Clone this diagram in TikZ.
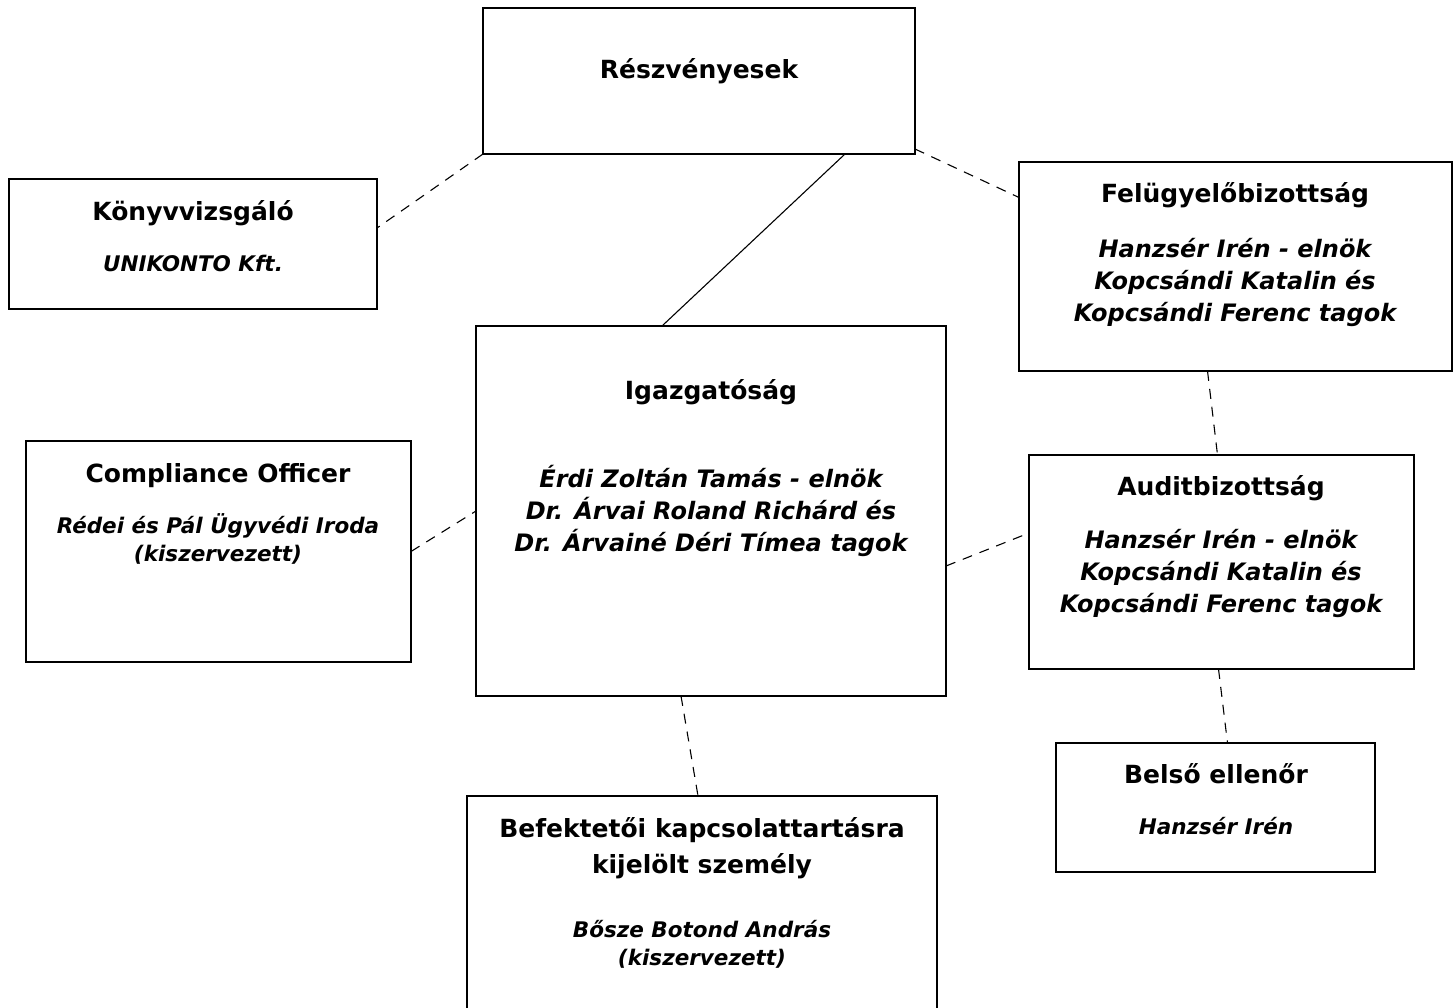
\documentclass[tikz,border=0pt]{standalone}
\usepackage{fontspec}
\setmainfont{DejaVu Sans}
\usetikzlibrary{calc}
\begin{document}
\begin{tikzpicture}[x=1pt,y=-1pt,
        box/.style={draw, line width=2.2pt, inner sep=0pt, outer sep=0pt},
        title/.style={anchor=base, align=center, inner sep=0pt, font=\bfseries\fontsize{25}{36}\selectfont},
        names/.style={anchor=base, align=center, inner sep=0pt, font=\bfseries\itshape\fontsize{24}{32}\selectfont},
        smallnames/.style={anchor=base, align=center, inner sep=0pt, font=\bfseries\itshape\fontsize{21.5}{28}\selectfont},
        link/.style={line width=1.1pt, dash pattern=on 10pt off 8pt},
        solidlink/.style={line width=1.1pt}]
        \useasboundingbox (0,0) rectangle (1455,1008);
        \clip (0,0) rectangle (1455,1008);
        \begin{scope}
            \node[box, minimum width=432pt, minimum height=146pt] (resz) at (699,81) {};
            \node[box, minimum width=368pt, minimum height=130pt] (konyv) at (193,244) {};
            \node[box, minimum width=433pt, minimum height=209pt] (felug) at (1235.5,266.5) {};
            \node[box, minimum width=470pt, minimum height=370pt] (igaz) at (711,511) {};
            \node[box, minimum width=385pt, minimum height=221pt] (comp) at (218.5,551.5) {};
            \node[box, minimum width=385pt, minimum height=214pt] (audit) at (1221.5,562) {};
            \node[box, minimum width=319pt, minimum height=129pt] (belso) at (1215.5,807.5) {};
            \node[box, minimum width=470pt, minimum height=224pt] (befekt) at (702,908) {};
            \node[title] (resz-t) at (699,79) {Részvényesek};
            \node[title] (konyv-t) at (193,221) {Könyvvizsgáló};
            \node[smallnames] (konyv-n) at (193,271) {UNIKONTO Kft.};
            \node[title] (felug-t) at (1235,203) {Felügyelőbizottság};
            \node[names] (felug-n) at (1235,321) {Hanzsér Irén - elnök\\Kopcsándi Katalin és\\Kopcsándi Ferenc tagok};
            \node[title] (igaz-t) at (711,399) {Igazgatóság};
            \node[names] (igaz-n) at (711,551) {Érdi Zoltán Tamás - elnök\\Dr. Árvai Roland Richárd és\\Dr. Árvainé Déri Tímea tagok};
            \node[title] (comp-t) at (218,482) {Compliance Officer};
            \node[smallnames] (comp-n) at (218,561) {Rédei és Pál Ügyvédi Iroda\\(kiszervezett)};
            \node[title] (audit-t) at (1221,495) {Auditbizottság};
            \node[names] (audit-n) at (1221,612) {Hanzsér Irén - elnök\\Kopcsándi Katalin és\\Kopcsándi Ferenc tagok};
            \node[title] (belso-t) at (1216,783) {Belső ellenőr};
            \node[smallnames] (belso-n) at (1216,834) {Hanzsér Irén};
            \node[title] (befekt-t) at (702,873) {Befektetői kapcsolattartásra\\kijelölt személy};
            \node[smallnames] (befekt-n) at (702,965) {Bősze Botond András\\(kiszervezett)};
            \draw[link] (resz.south west) -- ($(konyv.east)+(0,-16)$);
            \draw[link] ($(resz.south east)+(0,-5)$) -- ($(felug.west)+(0,-69)$);
            \draw[solidlink] ($(resz.south)+(146,0)$) -- ($(igaz.north)+(-49,0)$);
            \draw[link] ($(felug.south)+(-28,0)$) -- ($(audit.north)+(-4,0)$);
            \draw[link] (comp.east) -- (igaz.west);
            \draw[link] ($(igaz.east)+(0,55)$) -- ($(audit.west)+(0,-29)$);
            \draw[link] ($(audit.south)+(-3,0)$) -- ($(belso.north)+(12,0)$);
            \draw[link] ($(igaz.south)+(-30,0)$) -- ($(befekt.north)+(-4,0)$);
        \end{scope}
    \end{tikzpicture}
\end{document}
